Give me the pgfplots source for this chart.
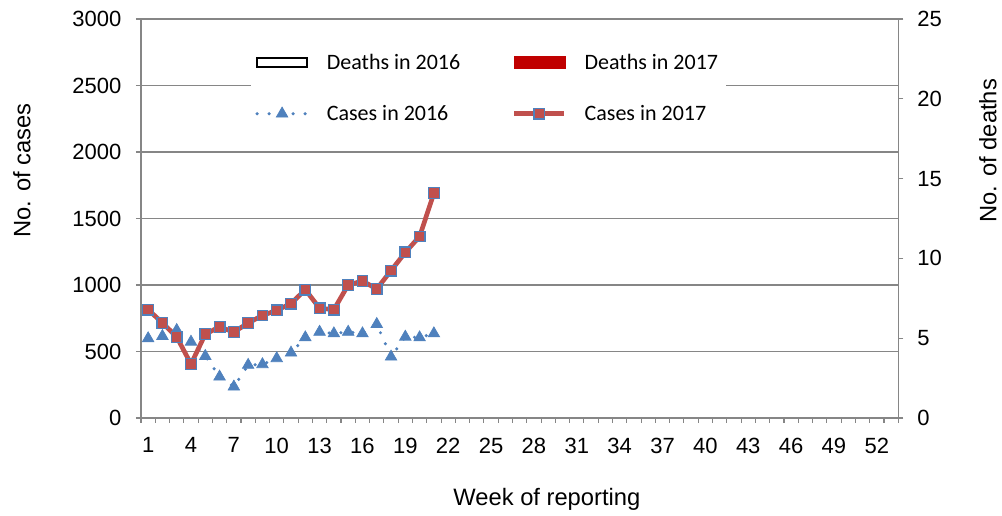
\documentclass[border=0pt]{standalone}
\usepackage{pgfplots}
\pgfplotsset{compat=1.18}
\usepackage{pgfplotstable}
\usepackage{fontspec}
\setmainfont{Liberation Sans}
\newfontfamily\carlito{Carlito}
\usetikzlibrary{calc}
\definecolor{xlblue}{RGB}{79,129,189}
\definecolor{xlred}{RGB}{192,80,77}
\definecolor{xldred}{RGB}{192,0,0}
\definecolor{xlgrid}{RGB}{134,134,134}

\pgfplotstableread{
week c2016 c2017
1 598 815
2 615 715
3 660 610
4 572 405
5 465 630
6 310 685
7 235 645
8 398 715
9 403 770
10 448 810
11 490 860
12 605 965
13 647 825
14 635 815
15 647 1000
16 635 1030
17 705 970
18 460 1108
19 610 1245
20 605 1365
21 635 1690
}\cases

\begin{document}
\begin{tikzpicture}
\begin{axis}[name=main, scale only axis, width=568pt, height=299.25pt,
 xmin=0.5, xmax=53.5, ymin=0, ymax=3000,
 axis x line*=bottom, axis y line*=left,
 axis line style={xlgrid, line width=0.8pt},
 xtick={0.5,1.5,...,53.5},
 xticklabels={1,,,4,,,7,,,10,,,13,,,16,,,19,,,22,,,25,,,28,,,31,,,34,,,37,,,40,,,43,,,46,,,49,,,52,,},
 xticklabel style={xshift=5.358pt, yshift=-7.5pt},
 ytick={0,500,...,3000},
 ymajorgrids, grid style={xlgrid, line width=0.8pt},
 tick align=outside, major tick length=3.75pt,
 tick style={xlgrid, line width=0.8pt},
 tick label style={font=\fontsize{16.5}{20}\selectfont},
 /pgf/number format/assume math mode=true,
 scaled y ticks=false, yticklabel style={/pgf/number format/1000 sep={}, xshift=-7.5pt},
 xlabel={Week of reporting}, ylabel={No. of cases},
 label style={font=\fontsize{17.8}{21}\selectfont},
 xlabel style={at={(axis description cs:0.536,-0.203)}, anchor=center},
 ylabel style={at={(axis description cs:-0.1571,0.62)}, anchor=center},
 legend image code/.code={\draw[mark repeat=2,mark phase=2] plot coordinates {(0pt,0pt) (18.75pt,0pt) (37.5pt,0pt)};},
 legend columns=2, legend cell align=left,
 legend style={at={(axis description cs:0.1454,0.93)}, anchor=north west, draw=none, fill=white,
   font=\carlito\fontsize{16.5}{19}\selectfont, column sep=10.5pt, row sep=19.5pt,
   /tikz/column 2/.style={column sep=35.75pt}, nodes={inner sep=3pt}},
]
\addlegendimage{legend image code/.code={\draw[black, fill=white, line width=0.9pt] (0pt,-3.4pt) rectangle (37.5pt,3.4pt);}}
\addlegendentry{Deaths in 2016}
\addlegendimage{legend image code/.code={\fill[xldred] (0pt,-4.5pt) rectangle (38pt,4.5pt);}}
\addlegendentry{Deaths in 2017}
\addplot[xlblue, line width=2.6pt, line cap=round, dash pattern=on 0pt off 9pt,
  mark=triangle*, mark size=5pt, mark options={solid, fill=xlblue, draw=xlblue, line width=0.5pt}]
  table[x=week,y=c2016]{\cases};
\addlegendentry{Cases in 2016}
\addplot[xlred, line width=3.5pt,
  mark=square*, mark size=4pt, mark options={solid, fill=xlred, draw=xlblue, line width=0.9pt}]
  table[x=week,y=c2017]{\cases};
\addlegendentry{Cases in 2017}
\end{axis}
\begin{axis}[scale only axis, width=568pt, height=299.25pt,
 xmin=0.5, xmax=53.5, ymin=0, ymax=25,
 axis y line*=right, axis x line=none,
 axis line style={xlgrid, line width=0.8pt},
 ytick={0,5,...,25},
 tick align=outside, major tick length=3.75pt,
 tick style={xlgrid, line width=0.8pt},
 tick label style={font=\fontsize{16.5}{20}\selectfont},
 yticklabel style={xshift=7pt},
 /pgf/number format/assume math mode=true,
 ylabel={No. of deaths},
 label style={font=\fontsize{17.8}{21}\selectfont},
 ylabel style={at={(axis description cs:1.1184,0.67)}, anchor=center},
]
\addplot[draw=none] coordinates {(1,0)};
\end{axis}
\pgfresetboundingbox
\path[use as bounding box] ($(main.south west)+(-105.75pt,-73.5pt)$) rectangle ($(main.north east)+(77.8pt,14.25pt)$);
\end{tikzpicture}
\end{document}
